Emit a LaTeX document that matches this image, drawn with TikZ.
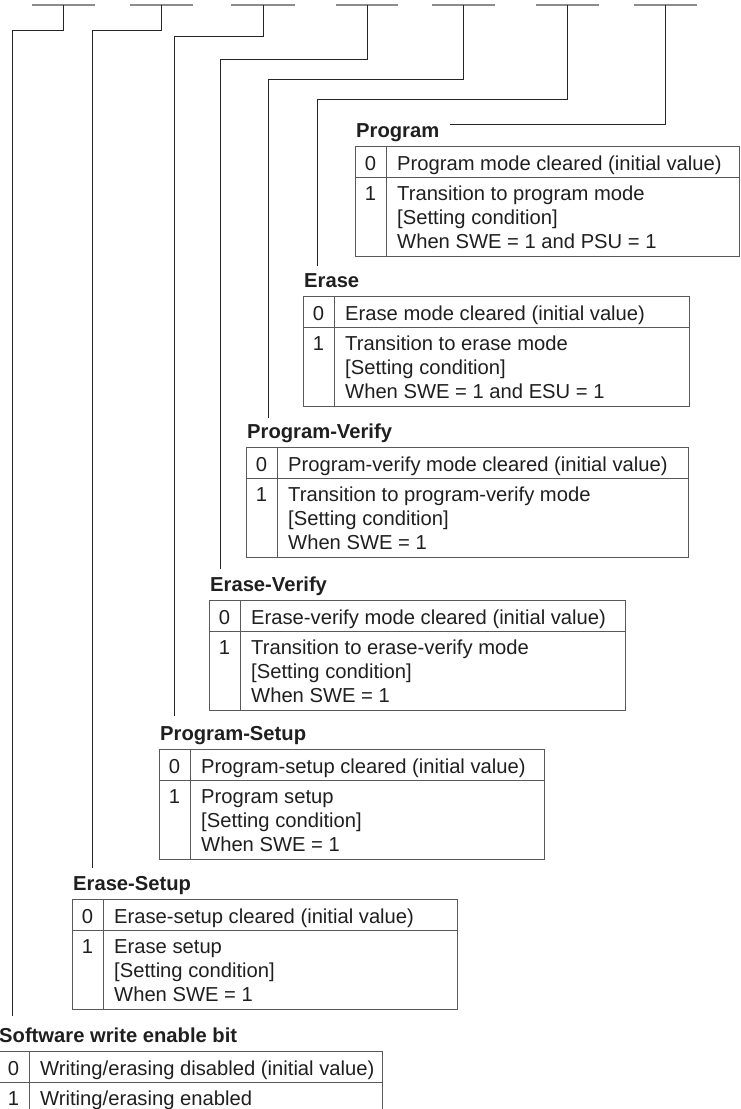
\documentclass[tikz,border=0pt]{standalone}
\usepackage{fontspec}
\setmainfont{Liberation Sans}
\tikzset{
  conn/.style={draw=black!85, line width=1pt},
  bitmark/.style={draw=black!45, line width=1.2pt},
  tabline/.style={draw=black!65, line width=1pt},
  ttl/.style={font=\fontsize{20.2}{24}\selectfont\bfseries, text=black!88, inner sep=0pt, anchor=base west},
  cell/.style={font=\fontsize{20.2}{24}\selectfont, text=black!88, inner sep=0pt, anchor=base west, align=left},
  num/.style={font=\fontsize{20.2}{24}\selectfont, text=black!88, inner sep=0pt, anchor=base},
}
% #1 name, #2 left, #3 top, #4 right, #5 title, #6 row 0, #7 row 1, #8 number of extra lines in row 1
\newcommand\regtab[8]{%
  \pgfmathsetmacro\rtB{#3+110}%
  \pgfmathsetmacro\rtD{#3+31.5}%
  \pgfmathsetmacro\rtC{#2+31}%
  \pgfmathsetmacro\rtN{#2+15.5}%
  \pgfmathsetmacro\rtX{#2+42}%
  \pgfmathsetmacro\rtTb{#3-9}%
  \pgfmathsetmacro\rtRa{#3+24}%
  \pgfmathsetmacro\rtRb{#3+54}%
  \pgfmathsetmacro\rtRc{#3+54+24*#8}%
  \pgfmathsetmacro\rtTx{#2+1}%
  \node[ttl] (#1-title) at (\rtTx,\rtTb) {#5};
  \draw[tabline] (#2,#3) rectangle (#4,\rtB);
  \draw[tabline] (#2,\rtD) -- (#4,\rtD);
  \draw[tabline] (\rtC,#3) -- (\rtC,\rtB);
  \node[num] (#1-n0) at (\rtN,\rtRa) {0};
  \node[cell] (#1-v0) at (\rtX,\rtRa) {#6};
  \node[num] (#1-n1) at (\rtN,\rtRb) {1};
  \node[cell] (#1-v1) at (\rtX,\rtRc) {#7};
}
\newcommand\setcond{{}[Setting condition]}
\begin{document}
\begin{tikzpicture}[x=1pt,y=-1pt]
\useasboundingbox (0,0) rectangle (740,1109);
\clip (0,0) rectangle (740,1109);
% bit marks
\foreach \nm/\l/\r in {A/32/95,B/130/193,C/231/295,D/336/398,E/432/495,F/536/599,G/634/697}{
  \draw[bitmark] (\l,5) -- (\r,5);
}
\coordinate (bA) at (63.5,5);
\coordinate (bB) at (161.5,5);
\coordinate (bC) at (263,5);
\coordinate (bD) at (367,5);
\coordinate (bE) at (463.5,5);
\coordinate (bF) at (567.5,5);
\coordinate (bG) at (665.5,5);
% turn points
\coordinate (kA) at (12,30);
\coordinate (kB) at (92,30);
\coordinate (kC) at (174,36);
\coordinate (kD) at (220,59);
\coordinate (kE) at (268,79);
\coordinate (kF) at (317,99);
% end points
\coordinate (eA) at (12,1016);
\coordinate (eB) at (92,868);
\coordinate (eC) at (174,716);
\coordinate (eD) at (220,569);
\coordinate (eE) at (268,418);
\coordinate (eF) at (317,266);
\coordinate (eG) at (450,124);
\draw[conn] (bA) |- (kA) -- (eA);
\draw[conn] (bB) |- (kB) -- (eB);
\draw[conn] (bC) |- (kC) -- (eC);
\draw[conn] (bD) |- (kD) -- (eD);
\draw[conn] (bE) |- (kE) -- (eE);
\draw[conn] (bF) |- (kF) -- (eF);
\draw[conn] (bG) |- (eG);
% tables
\regtab{prg}{355}{146}{739}{Program}{Program mode cleared (initial value)}{Transition to program mode\\\setcond\\When SWE = 1 and PSU = 1}{2}
\regtab{ers}{303}{296}{689}{Erase}{Erase mode cleared (initial value)}{Transition to erase mode\\\setcond\\When SWE = 1 and ESU = 1}{2}
\regtab{pv}{246}{447}{688}{Program-Verify}{Program-verify mode cleared (initial value)}{Transition to program-verify mode\\\setcond\\When SWE = 1}{2}
\regtab{ev}{209}{600}{625}{Erase-Verify}{Erase-verify mode cleared (initial value)}{Transition to erase-verify mode\\\setcond\\When SWE = 1}{2}
\regtab{ps}{159}{749}{544}{Program-Setup}{Program-setup cleared (initial value)}{Program setup\\\setcond\\When SWE = 1}{2}
\regtab{es}{72}{899}{457}{Erase-Setup}{Erase-setup cleared (initial value)}{Erase setup\\\setcond\\When SWE = 1}{2}
\regtab{swe}{-2}{1051}{382}{Software write enable bit}{Writing/erasing disabled (initial value)}{Writing/erasing enabled}{0}
\end{tikzpicture}
\end{document}
